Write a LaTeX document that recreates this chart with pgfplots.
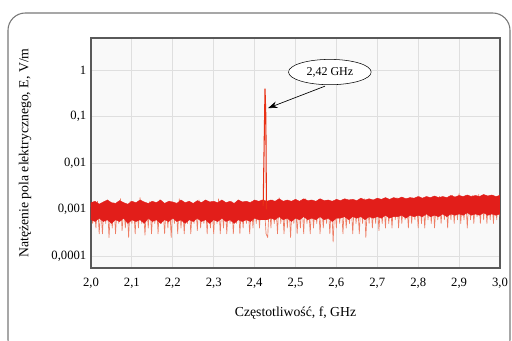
\documentclass[border=0pt]{standalone}
\usepackage{pgfplots}
\usepackage{pgfplotstable}
\pgfplotsset{compat=1.18}
\usepackage{fontspec}
\setmainfont{Liberation Serif}
\usetikzlibrary{shapes.geometric,arrows.meta}
\definecolor{noise}{RGB}{226,30,26}
\definecolor{fringe}{RGB}{238,125,100}
\definecolor{framegray}{RGB}{120,120,120}
\pgfplotstableread{
x y
2.000 14
2.004 5
2.008 12
2.012 4
2.016 15
2.020 3
2.024 11
2.028 3
2.032 13
2.036 5
2.040 16
2.044 2.5
2.048 10
2.052 4
2.056 14
2.060 3
2.064 12
2.068 5
2.072 17
2.076 3.5
2.080 11
2.084 4
2.088 13
2.092 2.5
2.096 15
2.100 5
2.104 12
2.108 3
2.112 14
2.116 4
2.120 18
2.124 5
2.128 11
2.132 2.8
2.136 13
2.140 4
2.144 15
2.148 3
2.152 12
2.156 5
2.160 14
2.164 3
2.168 16
2.172 5
2.176 11
2.180 3
2.184 13
2.188 4
2.192 15
2.196 2.5
2.200 12
2.204 5
2.208 14
2.212 3
2.216 17
2.220 4
2.224 12
2.228 3
2.232 13
2.236 5
2.240 15
2.244 3
2.248 11
2.252 5
2.256 14
2.260 3.5
2.264 16
2.268 4
2.272 12
2.276 5
2.280 13
2.284 3
2.288 15
2.292 4
2.296 11
2.300 3
2.304 14
2.308 5
2.312 17
2.316 3
2.320 12
2.324 4
2.328 14
2.332 3
2.336 13
2.340 5
2.344 15
2.348 3
2.352 12
2.356 5
2.360 16
2.364 3
2.368 13
2.372 4
2.376 14
2.380 5
2.384 12
2.388 3
2.392 15
2.396 4
2.400 13
2.404 5
2.408 14
2.412 4
2.416 16
2.420 6
2.424 12
2.428 3
2.432 2.5
2.436 14
2.440 4
2.444 16
2.448 5
2.452 13
2.456 3
2.460 18
2.464 5
2.468 12
2.472 3
2.476 15
2.480 4
2.484 13
2.488 2.5
2.492 14
2.496 5
2.500 16
2.504 3
2.508 12
2.512 4
2.516 14
2.520 3
2.524 17
2.528 5
2.532 12
2.536 3
2.540 15
2.544 4
2.548 13
2.552 5
2.556 16
2.560 3
2.564 12
2.568 4
2.572 14
2.576 5
2.580 13
2.584 3
2.588 15
2.592 2
2.596 12
2.600 4
2.604 16
2.608 5
2.612 13
2.616 3
2.620 15
2.624 4
2.628 12
2.632 5
2.636 14
2.640 3
2.644 16
2.648 5
2.652 13
2.656 3
2.660 15
2.664 5
2.668 17
2.672 2.5
2.676 13
2.680 5
2.684 15
2.688 4
2.692 14
2.696 5
2.700 16
2.704 3.5
2.708 13
2.712 5
2.716 15
2.720 4
2.724 17
2.728 5
2.732 14
2.736 4
2.740 16
2.744 6
2.748 18
2.752 4
2.756 14
2.760 5
2.764 17
2.768 6
2.772 15
2.776 4
2.780 18
2.784 5
2.788 14
2.792 6
2.796 16
2.800 4
2.804 19
2.808 5
2.812 15
2.816 4
2.820 17
2.824 6
2.828 16
2.832 5
2.836 18
2.840 4
2.844 15
2.848 6
2.852 19
2.856 5
2.860 16
2.864 6
2.868 18
2.872 4
2.876 17
2.880 6
2.884 20
2.888 5
2.892 16
2.896 6
2.900 22
2.904 5
2.908 17
2.912 6
2.916 19
2.920 4
2.924 18
2.928 6
2.932 20
2.936 5
2.940 17
2.944 7
2.948 21
2.952 5
2.956 18
2.960 6
2.964 20
2.968 5
2.972 17
2.976 6
2.980 19
2.984 5
2.988 18
2.992 6
2.996 20
3.000 7
}\noisedata
% band outline: upper edge left to right, then lower edge right to left
\pgfplotstableread{
x y
2.00 14
2.01 15
2.02 13
2.03 14.5
2.04 16
2.05 14
2.06 13.5
2.07 15.5
2.08 14
2.09 13
2.10 15
2.11 14
2.12 16
2.13 14.5
2.14 13.5
2.15 15
2.16 14
2.17 16
2.18 13.5
2.19 15
2.20 14.5
2.21 13.5
2.22 16
2.23 14
2.24 15
2.25 13.5
2.26 15.5
2.27 14
2.28 16
2.29 14.5
2.30 15
2.31 14
2.32 16
2.33 14
2.34 15
2.35 13.5
2.36 16
2.37 14.5
2.38 15
2.39 14
2.40 16
2.41 15
2.42 16
2.43 15
2.44 16
2.45 15
2.46 17
2.47 15
2.48 16
2.49 15
2.50 16.5
2.51 15
2.52 17
2.53 15.5
2.54 16
2.55 15
2.56 17
2.57 15.5
2.58 16
2.59 15
2.60 16.5
2.61 15.5
2.62 17
2.63 16
2.64 16.5
2.65 15.5
2.66 17.5
2.67 16
2.68 17
2.69 16
2.70 17.5
2.71 16.5
2.72 18
2.73 16.5
2.74 18
2.75 17
2.76 18.5
2.77 17
2.78 18
2.79 17.5
2.80 19
2.81 17.5
2.82 19
2.83 18
2.84 19.5
2.85 18
2.86 19
2.87 18
2.88 20
2.89 18.5
2.90 20
2.91 19
2.92 20.5
2.93 19
2.94 20
2.95 19
2.96 21
2.97 19.5
2.98 20.5
2.99 19
3.00 20
3.00 8
2.99 7.5
2.98 8
2.97 7.5
2.96 8.5
2.95 7.5
2.94 8
2.93 7.5
2.92 8.5
2.91 7.5
2.90 8
2.89 7.5
2.88 8
2.87 7
2.86 8
2.85 7
2.84 7.5
2.83 7
2.82 8
2.81 7
2.80 7.5
2.79 7
2.78 7.5
2.77 6.5
2.76 7.5
2.75 7
2.74 7
2.73 6.5
2.72 7.5
2.71 6.5
2.70 7
2.69 6.5
2.68 7
2.67 6
2.66 7
2.65 6.5
2.64 7
2.63 6
2.62 7
2.61 6.5
2.60 6.5
2.59 5.5
2.58 6.5
2.57 6
2.56 7
2.55 6
2.54 6.5
2.53 6
2.52 7
2.51 6
2.50 6.5
2.49 5.5
2.48 6.5
2.47 6
2.46 7
2.45 6
2.44 6.5
2.43 6
2.42 6
2.41 6
2.40 6.5
2.39 5.5
2.38 6
2.37 5.5
2.36 6
2.35 5
2.34 6
2.33 5.5
2.32 6.5
2.31 5.5
2.30 6
2.29 5
2.28 6
2.27 5.5
2.26 6.5
2.25 5.5
2.24 6
2.23 5
2.22 6
2.21 5.5
2.20 6.5
2.19 5.5
2.18 6
2.17 5
2.16 6
2.15 5.5
2.14 6.5
2.13 5
2.12 6
2.11 5.5
2.10 6
2.09 5
2.08 6.5
2.07 5.5
2.06 6
2.05 5
2.04 6
2.03 5.5
2.02 6.5
2.01 5.5
2.00 6
}\banddata
\begin{document}
\begin{tikzpicture}
\useasboundingbox (0,0) rectangle (384pt,255.75pt);
\begin{axis}[
  at={(68.25pt,54.75pt)}, anchor=south west,
  scale only axis, width=306.75pt, height=172.5pt,
  xmin=2.0, xmax=3.0, ymode=log, ymin=5.5e-5, ymax=4.9,
  xtick={2.0,2.1,2.2,2.3,2.4,2.5,2.6,2.7,2.8,2.9,3.0},
  xticklabels={{2,0},{2,1},{2,2},{2,3},{2,4},{2,5},{2,6},{2,7},{2,8},{2,9},{3,0}},
  ytick={1e-4,1e-3,1e-2,1e-1,1},
  yticklabels={{0,0001},{0,001},{0,01},{0,1},{1}},
  minor ytick={}, major tick length=0pt, minor tick length=0pt,
  grid=major, major grid style={gray!25, line width=0.6pt},
  axis line style={gray!70!black, line width=0.8pt},
  axis background/.style={fill=gray!5},
  tick label style={font=\fontsize{9.5}{11}\selectfont},
  xticklabel style={yshift=-4pt},
  xlabel={Częstotliwość, f, GHz},
  ylabel={Natężenie pola elektrycznego, E, V/m},
  label style={font=\fontsize{10.3}{12}\selectfont},
  xlabel style={at={(axis description cs:0.5,-0.196)}, anchor=center},
  ylabel style={at={(axis description cs:-0.161,0.5)}, anchor=center},
]
\addplot[fringe, line width=0.5pt, line join=round] table[x=x, y expr=\thisrow{y}*0.0001] {\noisedata};
\addplot[fill=noise, draw=noise, line width=0.3pt] table[x=x, y expr=\thisrow{y}*0.0001] {\banddata} -- cycle;
\addplot[noise!80!orange, line width=0.8pt] coordinates {(2.421,0.0012) (2.4235,0.03) (2.4255,0.4) (2.4275,0.1) (2.429,0.001)};
\node[draw, ellipse, fill=white, minimum width=62pt, minimum height=19pt, inner sep=1pt, font=\fontsize{9}{10}\selectfont] (lab) at (axis cs:2.584,0.906) {2,42 GHz};
\draw[-{Stealth[length=7pt,width=5pt]}, black, line width=0.5pt] (axis cs:2.572,0.45) -- (axis cs:2.433,0.152);
\end{axis}
\draw[framegray, line width=0.8pt, rounded corners=13pt] (6pt,-12pt) rectangle (382.5pt,246pt);
\end{tikzpicture}
\end{document}
